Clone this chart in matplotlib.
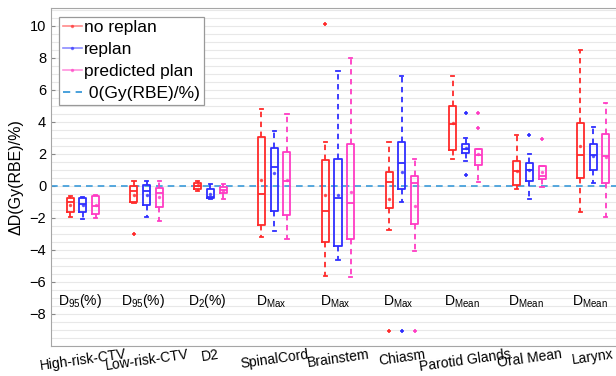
import matplotlib
matplotlib.use("Agg")
import matplotlib.pyplot as plt
from matplotlib.lines import Line2D
from matplotlib.ticker import MultipleLocator

plt.rcParams['font.family'] = ['Liberation Sans', 'DejaVu Sans']
plt.rcParams['mathtext.fontset'] = 'custom'
plt.rcParams['mathtext.rm'] = 'Liberation Sans'
plt.rcParams['mathtext.it'] = 'Liberation Sans'

structures = ["High-risk-CTV", "Low-risk-CTV", "D2", "SpinalCord", "Brainstem",
              "Chiasm", "Parotid Glands", "Oral Mean", "Larynx"]
metrics = [r"D$_{95}$(%)", r"D$_{95}$(%)", r"D$_{2}$(%)", r"D$_{\rm Max}$", r"D$_{\rm Max}$",
           r"D$_{\rm Max}$", r"D$_{\rm Mean}$", r"D$_{\rm Mean}$", r"D$_{\rm Mean}$"]

# (whislo, q1, median, q3, whishi, mean) per structure
no_replan = [(-1.95, -1.65, -1.0, -0.75, -0.65, -1.2),
             (-1.05, -1.0, -0.3, 0.0, 0.3, -0.55),
             (-0.35, -0.2, 0.0, 0.15, 0.3, 0.05),
             (-3.2, -2.45, -0.5, 3.05, 4.8, 0.35),
             (-5.65, -3.5, -1.6, 1.6, 2.75, -0.55),
             (-2.75, -1.4, 0.25, 0.88, 2.75, -0.8),
             (1.65, 2.23, 3.85, 4.98, 6.85, 3.95),
             (-0.22, 0.08, 0.92, 1.55, 3.2, 0.95),
             (-1.65, 0.5, 1.95, 3.9, 8.45, 2.5)]
no_replan_fliers = [[], [-3.0], [], [], [10.1], [-9.05], [], [], []]

replan = [(-2.05, -1.66, -1.15, -0.79, -0.68, -1.2),
          (-1.95, -1.2, -0.35, 0.05, 0.3, -0.55),
          (-0.8, -0.78, -0.7, -0.2, 0.1, -0.5),
          (-2.85, -1.58, 1.15, 2.35, 3.4, 0.78),
          (-4.65, -3.75, -0.75, 1.7, 7.15, -0.6),
          (-1.0, -0.22, 1.45, 2.75, 6.85, 0.85),
          (1.55, 2.02, 2.3, 2.58, 3.0, 2.35),
          (-0.85, 0.3, 0.98, 1.44, 2.0, 1.0),
          (0.18, 0.98, 1.95, 2.58, 3.7, 1.85)]
replan_fliers = [[], [], [], [], [], [-9.05], [4.55, 0.67], [3.2], []]

predicted = [(-2.0, -1.75, -1.25, -0.62, -0.6, -1.2),
             (-2.2, -1.3, -0.45, -0.15, 0.28, -0.7),
             (-0.85, -0.42, -0.28, -0.1, 0.1, -0.3),
             (-3.35, -1.8, 0.3, 2.08, 4.5, 0.35),
             (-5.7, -3.3, -1.1, 2.6, 8.0, -0.4),
             (-4.05, -2.4, 0.2, 0.63, 1.65, -1.25),
             (0.25, 1.33, 1.92, 2.27, 2.3, 2.0),
             (-0.05, 0.4, 0.6, 1.23, 1.25, 0.88),
             (-1.95, 0.2, 1.85, 3.25, 5.2, 1.8)]
predicted_fliers = [[], [], [], [], [], [-9.05], [4.55, 3.6], [2.95], []]

series = [("no replan", no_replan, no_replan_fliers, "#ff2a2a", -0.2),
          ("replan", replan, replan_fliers, "#2e2eff", 0.0),
          ("predicted plan", predicted, predicted_fliers, "#ff3cc4", 0.2)]
zero_color = "#3a9ad9"

fig = plt.figure(figsize=(6.16, 3.76), dpi=100)
ax = fig.add_axes([51 / 616, 30 / 376, 574 / 616, 338 / 376])

for name, rows, fliers, color, offset in series:
    stats = []
    for row, fl in zip(rows, fliers):
        lo, q1, med, q3, hi, mean = row
        stats.append(dict(whislo=lo, q1=q1, med=med, q3=q3, whishi=hi,
                          mean=mean, fliers=fl))
    pos = [i + 1 + offset for i in range(len(rows))]
    ax.bxp(stats, positions=pos, widths=0.11, showmeans=True, manage_ticks=False,
           boxprops=dict(color=color, lw=1.3),
           medianprops=dict(color=color, lw=1.3),
           whiskerprops=dict(color=color, lw=1.3, linestyle=(0, (3, 2.5))),
           capprops=dict(color=color, lw=1.3),
           capwidths=0.05,
           meanprops=dict(marker='.', markersize=3, markerfacecolor=color,
                          markeredgecolor=color, alpha=0.7),
           flierprops=dict(marker='+', markersize=3, markeredgecolor=color,
                           markeredgewidth=1.2))

ax.axhline(0, color=zero_color, lw=1.2, linestyle=(0, (4, 3)), zorder=1)

for i, m in enumerate(metrics):
    ax.text(i + 0.95, -7.45, m, ha='center', va='baseline', fontsize=10)

ax.set_xlim(0.5, 9.5)
ax.set_ylim(-10, 11.1)
ax.set_xticks(range(1, 10))
ax.set_xticklabels(structures, rotation=8, ha='center', fontsize=10)
ax.set_yticks(range(-8, 11, 2))
ax.yaxis.set_minor_locator(MultipleLocator(0.5))
ax.tick_params(axis='y', labelsize=10.5, direction='in', length=3, color='#888888')
ax.tick_params(axis='y', which='minor', length=0)
ax.tick_params(axis='x', length=0, pad=1)
ax.grid(True, which='both', axis='y', color='#e8e8e8', lw=0.8)
ax.set_axisbelow(True)
for s in ax.spines.values():
    s.set_color('#a6a6a6')
ax.set_ylabel("ΔD(Gy(RBE)/%)", fontsize=11.5, labelpad=4)

handles = [Line2D([], [], color=c, lw=1.2, alpha=0.55, marker='.', markersize=3)
           for _, _, _, c, _ in series]
handles.append(Line2D([], [], color=zero_color, lw=1.3, linestyle=(0, (4, 3))))
labels = [s[0] for s in series] + [" 0(Gy(RBE)/%)"]
leg = ax.legend(handles, labels, loc='upper left', bbox_to_anchor=(0.008, 0.985),
                fontsize=12.5, handlelength=1.1, handletextpad=0.15, labelspacing=0.4,
                borderpad=0.2, borderaxespad=0.2, fancybox=False, framealpha=1)
leg.get_frame().set_edgecolor('#999999')
leg.get_frame().set_linewidth(0.9)

fig.savefig("out.png", dpi=100)
